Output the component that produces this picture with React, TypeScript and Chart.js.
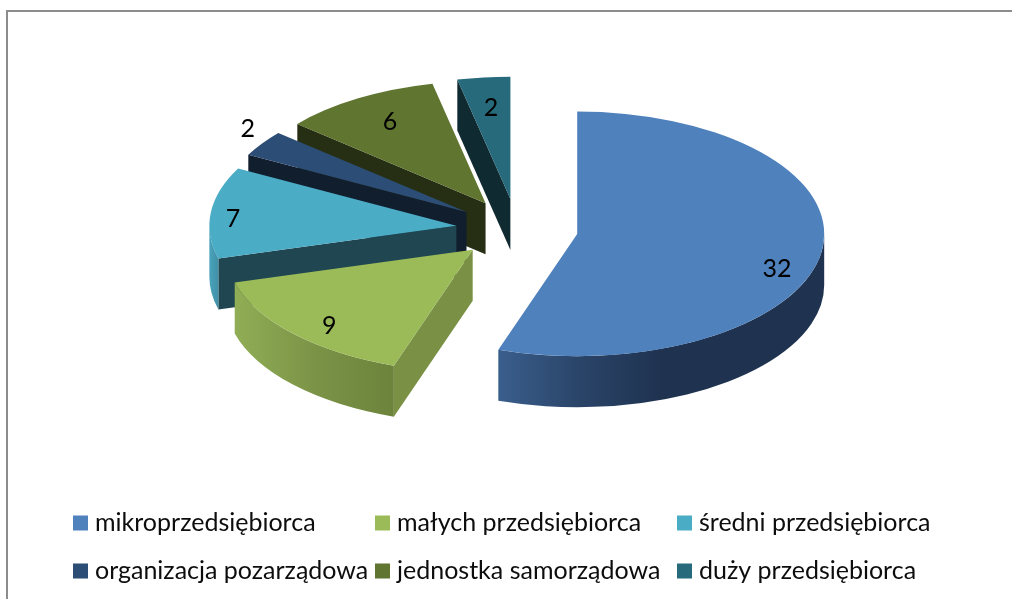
import React, { useEffect, useRef } from "react";
import { Chart, registerables } from "chart.js";

Chart.register(...registerables);

const categories = [
  "mikroprzedsiębiorca",
  "małych przedsiębiorca",
  "średni przedsiębiorca",
  "organizacja pozarządowa",
  "jednostka samorządowa",
  "duży przedsiębiorca",
];
const seriesValues = [32, 9, 7, 2, 6, 2];
const topColors = ["#4f81bd", "#9bbb59", "#4bacc6", "#2c4d75", "#5f7530", "#276a7c"];
const cutFaceColors = ["#1f3350", "#7a9145", "#1f4651", "#111e2e", "#262f13", "#102a31"];
const rimStops: [number, string][][] = [
  [[0, "#3a5e8c"], [0.25, "#2a4468"], [0.5, "#1f3350"], [1, "#1f3350"]],
  [[0, "#90ae55"], [0.5, "#7b9347"], [1, "#6c833b"]],
  [[0, "#4aa3bb"], [1, "#3f91a7"]],
  [[0, "#111e2e"], [1, "#111e2e"]],
  [[0, "#262f13"], [1, "#262f13"]],
  [[0, "#102a31"], [1, "#102a31"]],
];
// Label placement: fraction of radius along the slice's mid-angle, plus a vertical nudge.
const labelRadial = [0.82, 0.8, 0.91, 1.07, 0.75, 0.73];
const labelDrop = [19, 9, 5, -10, -3, -2];

const WIDTH = 1012;
const HEIGHT = 599;
const RADIUS = 247;
const TILT = 0.495;
const DEPTH = 51;
const EXPLODE = 61;
const CENTER_X = 517;
const CENTER_Y = 229;
const FONT = "Lato, sans-serif";
const TEXT_SIZE = 25;
const TEXT_COLOR = "#0d0d0d";
const LEGEND_COLS = [73, 375, 677];
const LEGEND_ROWS = [523, 571];
const SWATCH = 15;

const pie3dPlugin = {
  id: "pie3d",
  beforeDatasetsDraw(chart: any) {
    const { ctx } = chart;
    const arcs = chart.getDatasetMeta(0).data;

    // Frame
    ctx.save();
    ctx.strokeStyle = "#8c8c8c";
    ctx.lineWidth = 2;
    ctx.beginPath();
    ctx.moveTo(7, HEIGHT);
    ctx.lineTo(7, 11);
    ctx.lineTo(WIDTH, 11);
    ctx.stroke();
    ctx.restore();

    const apexOf = (el: any) => {
      const mid = (el.startAngle + el.endAngle) / 2;
      return {
        x: CENTER_X + Math.cos(mid) * EXPLODE,
        y: CENTER_Y + Math.sin(mid) * EXPLODE * TILT,
        mid,
      };
    };

    // Back to front: last slice first.
    for (let i = arcs.length - 1; i >= 0; i--) {
      const el = arcs[i];
      const a0 = el.startAngle;
      const a1 = el.endAngle;
      const R = el.outerRadius;
      const apex = apexOf(el);
      const rimPt = (a: number) => ({
        x: apex.x + Math.cos(a) * R,
        y: apex.y + Math.sin(a) * R * TILT,
      });

      const face = (a: number) => {
        const p = rimPt(a);
        ctx.beginPath();
        ctx.moveTo(apex.x, apex.y);
        ctx.lineTo(p.x, p.y);
        ctx.lineTo(p.x, p.y + DEPTH);
        ctx.lineTo(apex.x, apex.y + DEPTH);
        ctx.closePath();
        ctx.fillStyle = cutFaceColors[i];
        ctx.fill();
      };
      if (Math.cos(a0) < -1e-6) face(a0);
      if (Math.cos(a1) > 1e-6) face(a1);

      const v0 = Math.max(a0, 0);
      const v1 = Math.min(a1, Math.PI);
      if (v1 > v0) {
        let minX = Infinity;
        let maxX = -Infinity;
        for (let k = 0; k <= 40; k++) {
          const px = rimPt(v0 + ((v1 - v0) * k) / 40).x;
          minX = Math.min(minX, px);
          maxX = Math.max(maxX, px);
        }
        const grad = ctx.createLinearGradient(minX, 0, maxX, 0);
        const stops = rimStops[i];
        // The gradient runs left to right on screen.
        stops.forEach(([o, c]) => grad.addColorStop(o, c));
        ctx.beginPath();
        ctx.ellipse(apex.x, apex.y, R, R * TILT, 0, v0, v1, false);
        ctx.ellipse(apex.x, apex.y + DEPTH, R, R * TILT, 0, v1, v0, true);
        ctx.closePath();
        ctx.fillStyle = grad;
        ctx.fill();
      }

      // Top face: the library's own arc element, drawn through a tilt transform.
      ctx.save();
      ctx.translate(apex.x, apex.y);
      ctx.scale(1, TILT);
      ctx.translate(-el.x, -el.y);
      el.draw(ctx);
      ctx.restore();
    }

    // Data labels
    ctx.save();
    ctx.font = `${TEXT_SIZE}px ${FONT}`;
    ctx.fillStyle = "#000000";
    ctx.textAlign = "center";
    ctx.textBaseline = "middle";
    arcs.forEach((el: any, i: number) => {
      const apex = apexOf(el);
      const r = el.outerRadius * labelRadial[i];
      ctx.fillText(
        String(chart.data.datasets[0].data[i]),
        apex.x + Math.cos(apex.mid) * r,
        apex.y + Math.sin(apex.mid) * r * TILT + labelDrop[i]
      );
    });
    ctx.restore();

    // Legend in a fixed three-column grid
    const items = chart.options.plugins.legend.labels.generateLabels(chart);
    ctx.save();
    ctx.font = `${TEXT_SIZE}px ${FONT}`;
    ctx.textAlign = "left";
    ctx.textBaseline = "middle";
    items.forEach((item: any, i: number) => {
      const x = LEGEND_COLS[i % LEGEND_COLS.length];
      const y = LEGEND_ROWS[Math.floor(i / LEGEND_COLS.length)];
      ctx.fillStyle = item.fillStyle;
      ctx.fillRect(x, y - SWATCH / 2, SWATCH, SWATCH);
      ctx.fillStyle = TEXT_COLOR;
      ctx.fillText(item.text, x + 22, y);
    });
    ctx.restore();

    return false;
  },
};

export default function App() {
  const ref = useRef<HTMLCanvasElement | null>(null);
  useEffect(() => {
    if (!ref.current) return;
    const chart = new Chart(ref.current, {
      type: "pie",
      data: {
        labels: categories,
        datasets: [
          {
            data: seriesValues,
            backgroundColor: topColors,
            borderWidth: 0,
            hoverOffset: 0,
          },
        ],
      },
      options: {
        responsive: false,
        animation: false,
        events: [],
        radius: RADIUS,
        plugins: {
          legend: { display: false },
          tooltip: { enabled: false },
        },
      },
      plugins: [pie3dPlugin],
    } as any);
    return () => chart.destroy();
  }, []);
  return (
    <canvas
      ref={ref}
      width={WIDTH}
      height={HEIGHT}
      style={{ position: "fixed", left: 0, top: 0, width: WIDTH, height: HEIGHT, display: "block" }}
    />
  );
}
